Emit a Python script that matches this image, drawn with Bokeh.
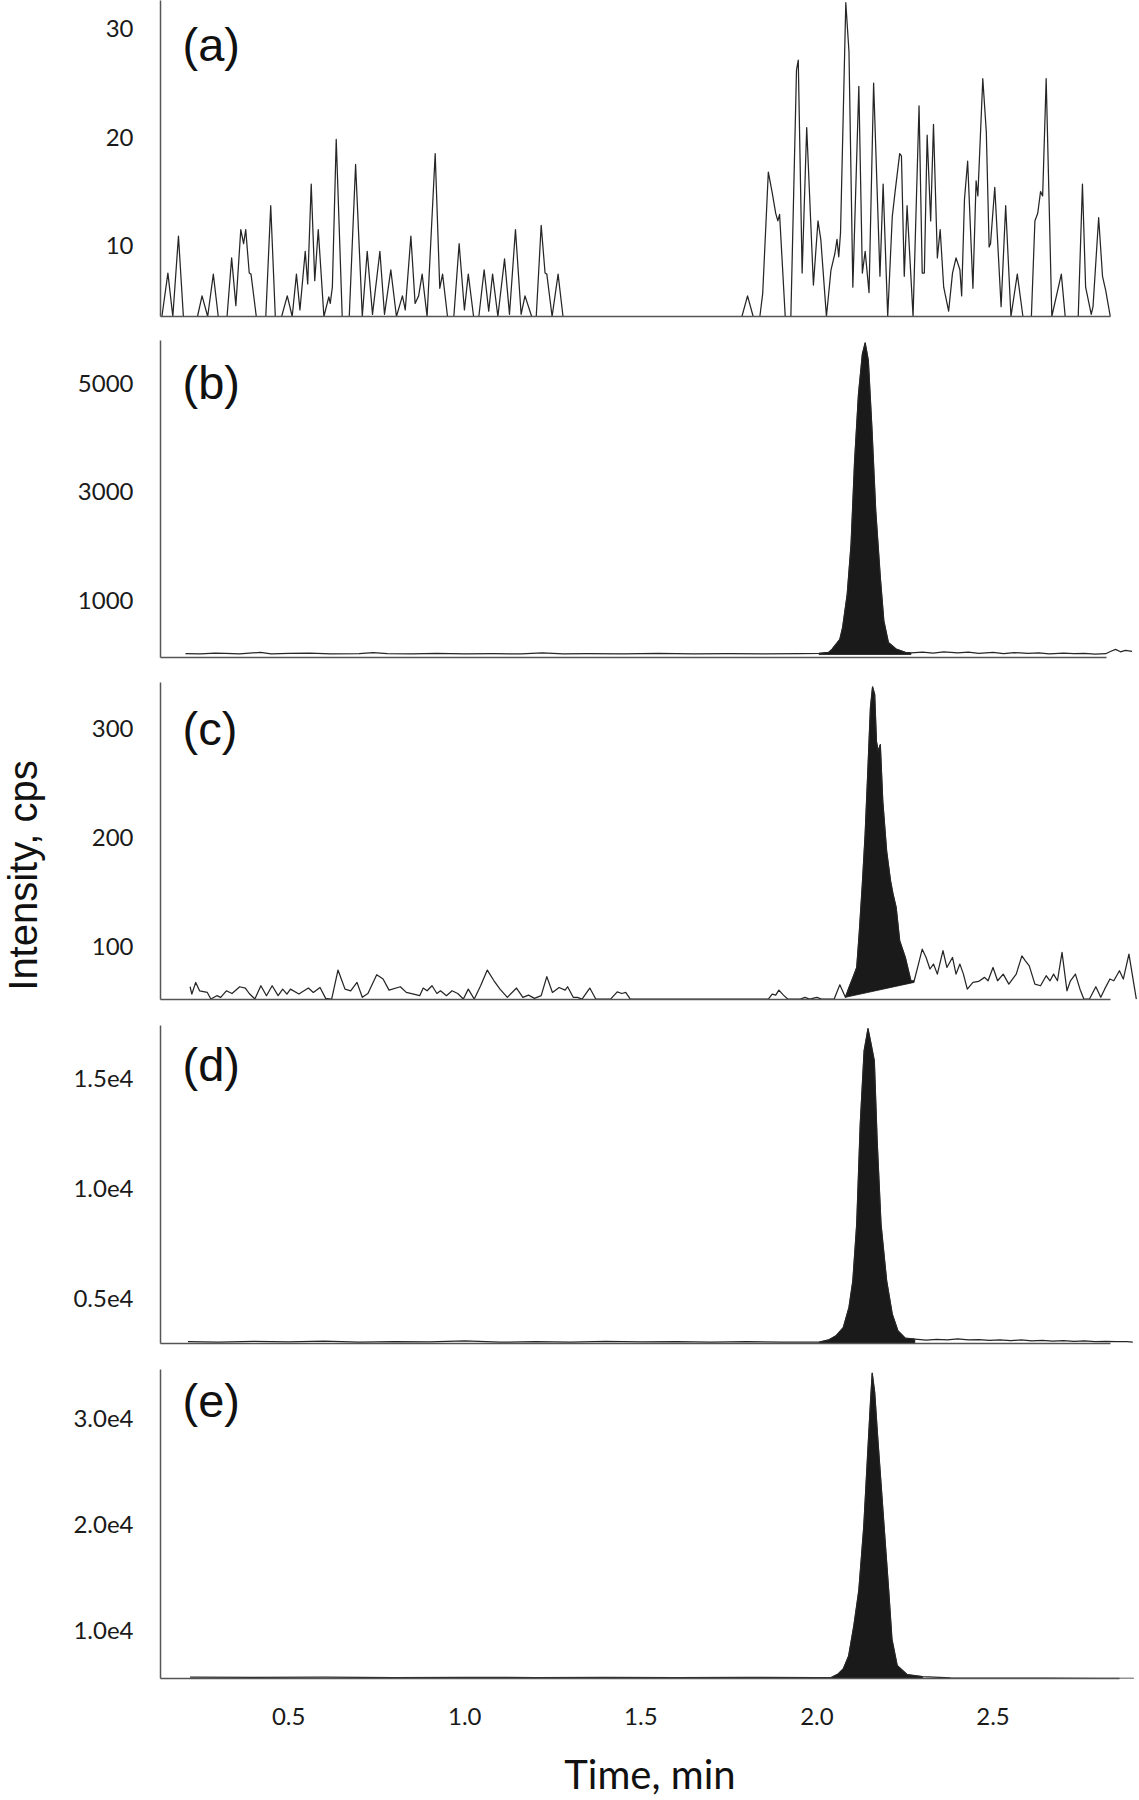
import math
from bokeh.plotting import figure
from bokeh.layouts import column, row
from bokeh.models import FixedTicker, Range1d, Label
from bokeh.embed import file_html
from bokeh.resources import INLINE

# ---------------- data (time in min, intensity in cps) ----------------
time_a = [0.140, 0.157, 0.171, 0.187, 0.201, 0.241, 0.254, 0.270, 0.286, 0.300,
          0.325, 0.338, 0.350, 0.364, 0.372, 0.378, 0.388, 0.393, 0.408, 0.435,
          0.449, 0.462, 0.480, 0.496, 0.510, 0.522, 0.532, 0.547, 0.554, 0.564,
          0.574, 0.584, 0.600, 0.614, 0.618, 0.624, 0.635, 0.652, 0.672, 0.690,
          0.709, 0.723, 0.738, 0.759, 0.772, 0.790, 0.806, 0.823, 0.831, 0.847,
          0.859, 0.869, 0.879, 0.893, 0.916, 0.929, 0.937, 0.951, 0.969, 0.984,
          0.999, 1.010, 1.025, 1.040, 1.055, 1.068, 1.079, 1.094, 1.113, 1.127,
          1.144, 1.160, 1.171, 1.190, 1.203, 1.217, 1.228, 1.233, 1.248, 1.265,
          1.279, 1.787, 1.803, 1.819, 1.838, 1.846, 1.862, 1.873, 1.883, 1.889,
          1.894, 1.910, 1.926, 1.942, 1.947, 1.958, 1.971, 1.990, 2.003, 2.011,
          2.027, 2.040, 2.051, 2.057, 2.062, 2.067, 2.082, 2.091, 2.102, 2.119,
          2.129, 2.137, 2.148, 2.161, 2.179, 2.188, 2.201, 2.214, 2.222, 2.235,
          2.240, 2.248, 2.256, 2.273, 2.290, 2.299, 2.305, 2.313, 2.323, 2.331,
          2.342, 2.350, 2.360, 2.374, 2.385, 2.395, 2.406, 2.411, 2.419, 2.428,
          2.443, 2.452, 2.457, 2.471, 2.481, 2.489, 2.493, 2.505, 2.523, 2.536,
          2.551, 2.569, 2.585, 2.609, 2.619, 2.627, 2.635, 2.641, 2.651, 2.667,
          2.694, 2.705, 2.742, 2.754, 2.763, 2.779, 2.784, 2.800, 2.811, 2.820,
          2.833]
intensity_a = [3.5, 7.5, 3.5, 10.9, 3.5, 3.5, 5.4, 3.5, 7.4, 3.5,
               3.5, 8.9, 4.5, 11.5, 10.2, 11.5, 7.5, 7.4, 3.5, 3.5,
               13.7, 3.5, 3.5, 5.4, 3.5, 7.4, 4.1, 9.5, 6.5, 15.7,
               6.8, 11.5, 3.5, 5.3, 4.7, 6.2, 19.8, 3.5, 3.5, 17.5,
               3.5, 9.5, 3.7, 9.5, 3.7, 7.8, 3.5, 5.4, 4.1, 10.9,
               4.7, 5.4, 7.4, 3.5, 18.5, 6.1, 7.4, 3.5, 3.5, 10.2,
               4.1, 7.4, 3.5, 3.5, 7.8, 4.0, 7.4, 3.5, 8.8, 3.7,
               11.5, 3.7, 5.4, 3.5, 3.5, 11.9, 7.5, 7.4, 3.5, 7.4,
               3.5, 3.5, 5.4, 3.5, 3.5, 5.6, 16.8, 14.9, 13.0, 12.3,
               12.9, 3.5, 3.5, 26.2, 27.1, 7.5, 20.9, 6.4, 12.3, 10.6,
               3.5, 7.8, 9.3, 10.6, 9.0, 11.2, 32.4, 27.9, 6.2, 24.7,
               7.5, 9.5, 5.7, 25.0, 7.2, 15.7, 3.5, 12.7, 15.0, 18.5,
               18.3, 7.2, 13.7, 3.5, 22.9, 7.5, 7.5, 20.2, 12.3, 21.2,
               8.9, 11.5, 6.2, 4.0, 7.5, 8.9, 7.8, 5.4, 14.3, 17.8,
               6.1, 16.0, 14.6, 25.4, 20.5, 9.9, 10.2, 15.4, 4.4, 13.7,
               3.5, 7.4, 3.5, 3.5, 12.3, 13.0, 15.0, 14.6, 25.4, 3.5,
               7.4, 3.5, 3.5, 15.7, 6.2, 3.7, 4.4, 12.6, 7.2, 5.9,
               3.5]

time_b = [0.207, 0.25, 0.29, 0.32, 0.36, 0.42, 0.45, 0.50, 0.56, 0.62,
          0.70, 0.74, 0.78, 0.85, 0.92, 1.00, 1.08, 1.16, 1.22, 1.28,
          1.35, 1.45, 1.55, 1.65, 1.75, 1.85, 1.95, 2.006, 2.033, 2.043,
          2.065, 2.073, 2.086, 2.097, 2.107, 2.118, 2.129, 2.137, 2.146, 2.156,
          2.167, 2.180, 2.190, 2.203, 2.225, 2.251, 2.267, 2.30, 2.33, 2.36,
          2.40, 2.43, 2.46, 2.50, 2.53, 2.56, 2.60, 2.63, 2.66, 2.70,
          2.73, 2.76, 2.79, 2.82, 2.835, 2.848, 2.862, 2.876, 2.895]
intensity_b = [15, 10, 25, 20, 10, 40, 10, 20, 25, 10,
               15, 35, 15, 10, 20, 10, 15, 10, 30, 10,
               15, 10, 20, 10, 15, 10, 15, 20, 40, 100,
               280, 500, 1110, 2040, 3570, 4800, 5540, 5750, 5420, 4190,
               2650, 1420, 620, 220, 100, 40, 30, 45, 25, 50,
               30, 45, 20, 40, 15, 35, 20, 30, 10, 25,
               15, 20, 5, 15, 60, 95, 50, 75, 60]

time_c = [0.220, 0.225, 0.236, 0.247, 0.269, 0.279, 0.296, 0.307, 0.323, 0.339,
          0.361, 0.377, 0.388, 0.404, 0.421, 0.437, 0.453, 0.470, 0.483, 0.495,
          0.505, 0.529, 0.556, 0.570, 0.589, 0.605, 0.622, 0.640, 0.660, 0.676,
          0.694, 0.709, 0.725, 0.750, 0.768, 0.785, 0.817, 0.834, 0.855, 0.872,
          0.882, 0.893, 0.907, 0.921, 0.931, 0.948, 0.964, 0.980, 0.996, 1.010,
          1.027, 1.045, 1.064, 1.083, 1.100, 1.121, 1.147, 1.165, 1.181, 1.198,
          1.217, 1.233, 1.249, 1.268, 1.285, 1.292, 1.308, 1.320, 1.333, 1.355,
          1.372, 1.414, 1.433, 1.446, 1.457, 1.470, 1.862, 1.873, 1.883, 1.892,
          1.905, 1.917, 1.953, 1.966, 1.979, 2.000, 2.013, 2.049, 2.065, 2.081,
          2.091, 2.102, 2.113, 2.120, 2.129, 2.137, 2.145, 2.152, 2.158, 2.164,
          2.169, 2.174, 2.180, 2.187, 2.198, 2.209, 2.216, 2.225, 2.235, 2.251,
          2.267, 2.276, 2.286, 2.299, 2.310, 2.321, 2.331, 2.342, 2.358, 2.369,
          2.385, 2.395, 2.406, 2.416, 2.427, 2.443, 2.459, 2.476, 2.486, 2.500,
          2.513, 2.529, 2.545, 2.566, 2.582, 2.592, 2.603, 2.619, 2.635, 2.651,
          2.662, 2.672, 2.683, 2.696, 2.710, 2.720, 2.734, 2.747, 2.758, 2.774,
          2.792, 2.806, 2.817, 2.832, 2.843, 2.859, 2.870, 2.886, 2.907]
intensity_c = [62.7, 56, 66.7, 59, 57.5, 51.4, 54.5, 53, 59, 56.5,
               62.7, 61.5, 56.5, 51.4, 63.6, 54.5, 63.6, 54.5, 60.5, 56,
               60.5, 56, 61.5, 57.5, 62, 52, 51.4, 78, 60.5, 59,
               66.7, 53, 56.5, 73.7, 69.8, 59.6, 62.7, 57.5, 56, 54.5,
               61.5, 59, 63.6, 56.5, 59, 54.5, 59, 56.5, 51.4, 60.5,
               51.4, 63.6, 78, 68.2, 60.5, 53, 61.5, 53, 55, 52,
               54.5, 72, 57.5, 62, 59.6, 62.7, 53, 53, 51.4, 61.5,
               51.4, 51.4, 58, 56.5, 57.5, 51.4, 51.4, 56, 55, 59.6,
               55, 51.4, 51.4, 53, 51.4, 53, 51.4, 51.4, 64.5, 53,
               62, 71, 80.4, 111, 157, 203, 264, 319, 338, 331,
               288, 279, 285, 233, 187, 160, 148, 135.5, 105, 89.6,
               68, 68, 80.5, 97.2, 89.6, 79, 83.5, 74.3, 95.8, 80.4,
               89.6, 74.3, 83.5, 74.3, 60.5, 66.7, 67.6, 71.3, 68.2, 80.4,
               68.2, 74.3, 65.1, 74.3, 91.1, 86.5, 81.9, 65.1, 63.6, 72.8,
               68.2, 74.3, 68.2, 94.2, 59, 68.2, 74.3, 60.5, 51.4, 51.4,
               62.7, 53, 60.5, 69.8, 68.2, 77.4, 69.8, 92.6, 51.4]

time_d = [0.214, 0.30, 0.40, 0.50, 0.60, 0.70, 0.80, 0.90, 1.00, 1.10,
          1.20, 1.30, 1.40, 1.50, 1.60, 1.70, 1.80, 1.90, 2.006, 2.033,
          2.054, 2.075, 2.091, 2.102, 2.113, 2.123, 2.134, 2.145, 2.152, 2.163,
          2.171, 2.182, 2.198, 2.214, 2.230, 2.251, 2.278, 2.31, 2.34, 2.37,
          2.40, 2.43, 2.46, 2.49, 2.52, 2.55, 2.58, 2.61, 2.64, 2.67,
          2.70, 2.73, 2.76, 2.79, 2.82, 2.85, 2.88, 2.897]
intensity_d = [3020, 3000, 3040, 3010, 3050, 3000, 3030, 3010, 3060, 3000,
               3020, 3000, 3040, 3010, 3030, 3000, 3020, 3000, 3000, 3100,
               3290, 3670, 4580, 5790, 8360, 12900, 16240, 17250, 16700, 15790,
               12150, 8360, 5790, 4270, 3520, 3180, 3140, 3090, 3130, 3110,
               3150, 3100, 3120, 3080, 3110, 3070, 3100, 3060, 3080, 3050,
               3070, 3040, 3060, 3030, 3040, 3020, 3030, 3000]

time_e = [0.22, 0.40, 0.60, 0.80, 1.00, 1.20, 1.40, 1.60, 1.80, 2.00,
          2.040, 2.060, 2.075, 2.090, 2.105, 2.119, 2.133, 2.143, 2.152, 2.157,
          2.164, 2.172, 2.180, 2.194, 2.204, 2.213, 2.228, 2.256, 2.30, 2.38,
          2.50, 2.65, 2.80, 2.90]
intensity_e = [5600, 5580, 5600, 5570, 5590, 5570, 5580, 5560, 5580, 5560,
               5560, 5900, 6400, 7600, 10500, 13800, 19800, 26000, 31500, 34300,
               32500, 28500, 24800, 18300, 13700, 9200, 6700, 5850, 5650, 5550,
               5520, 5510, 5500, 5500]

# integrated peak windows: (start time, end time, baseline at start, baseline at end)
peak_b = (2.006, 2.267, 0, 0)
peak_c = (2.081, 2.276, 53, 66.7)
peak_d = (2.006, 2.278, 2960, 2960)
peak_e = (2.040, 2.300, 5490, 5490)

y_ticks_a = [10, 20, 30]
y_labels_a = ["10", "20", "30"]
y_ticks_b = [1000, 3000, 5000]
y_labels_b = ["1000", "3000", "5000"]
y_ticks_c = [100, 200, 300]
y_labels_c = ["100", "200", "300"]
y_ticks_d = [5000, 10000, 15000]
y_labels_d = ["0.5e4", "1.0e4", "1.5e4"]
y_ticks_e = [10000, 20000, 30000]
y_labels_e = ["1.0e4", "2.0e4", "3.0e4"]

x_ticks = [0.5, 1.0, 1.5, 2.0, 2.5]
x_tick_labels = ["0.5", "1.0", "1.5", "2.0", "2.5"]
panel_letters = ["(a)", "(b)", "(c)", "(d)", "(e)"]
x_title = "Time, min"
y_title = "Intensity, cps"

# ---------------- layout ----------------
PAGE_W = 1139
STRIP_W = 50          # left strip carrying the shared y title
AXIS_X = 160          # page x of the y axes
X_START, X_END = 0.136, 2.916
x_range = Range1d(X_START, X_END)

panels = [
    dict(t=time_a, v=intensity_a, yr=(3.5, 32.6), yt=y_ticks_a, yl=y_labels_a, peak=None,
         fh=316, bb=24, ly=272, axis_end=2.833),
    dict(t=time_b, v=intensity_b, yr=(-55, 5793), yt=y_ticks_b, yl=y_labels_b, peak=peak_b,
         fh=317, bb=25, ly=275, axis_end=2.823),
    dict(t=time_c, v=intensity_c, yr=(51, 342), yt=y_ticks_c, yl=y_labels_c, peak=peak_c,
         fh=317, bb=26, ly=271, axis_end=2.833),
    dict(t=time_d, v=intensity_d, yr=(2940, 17395), yt=y_ticks_d, yl=y_labels_d, peak=peak_d,
         fh=318, bb=26, ly=279, axis_end=2.833),
    dict(t=time_e, v=intensity_e, yr=(5480, 34650), yt=y_ticks_e, yl=y_labels_e, peak=peak_e,
         fh=318, bb=113, ly=278, axis_end=2.86),
]
PAGE_H = sum(c["fh"] + c["bb"] for c in panels)   # 1800

AXIS_COLOR = "#555555"
TRACE_COLOR = "#262626"
FILL_COLOR = "#1a1a1a"

figs = []
for i, cfg in enumerate(panels):
    last = i == len(panels) - 1
    left = AXIS_X - STRIP_W
    p = figure(x_range=x_range, y_range=Range1d(*cfg["yr"]),
               width=PAGE_W - STRIP_W, height=cfg["fh"] + cfg["bb"],
               min_border_left=left, min_border_right=0, min_border_top=0,
               min_border_bottom=cfg["bb"], output_backend="svg",
               toolbar_location=None, title=None,
               background_fill_color="white", border_fill_color="white")
    p.outline_line_color = None
    p.grid.visible = False

    yax = p.yaxis[0]
    yax.ticker = FixedTicker(ticks=cfg["yt"])
    yax.major_label_overrides = {k: s for k, s in zip(cfg["yt"], cfg["yl"])}
    yax.major_tick_line_color = None
    yax.minor_tick_line_color = None
    yax.major_tick_out = 0
    yax.major_tick_in = 0
    yax.minor_tick_out = 0
    yax.axis_line_color = AXIS_COLOR
    yax.axis_line_width = 1.5
    yax.major_label_standoff = 27
    yax.major_label_text_font = "Lato"
    yax.major_label_text_font_size = "24px"
    yax.major_label_text_color = "#1a1a1a"

    xax = p.xaxis[0]
    xax.bounds = (X_START, cfg["axis_end"])
    xax.axis_line_color = AXIS_COLOR
    xax.axis_line_width = 1.6
    xax.major_tick_line_color = None
    xax.minor_tick_line_color = None
    xax.major_tick_out = 0
    xax.major_tick_in = 0
    xax.minor_tick_out = 0
    if last:
        xax.ticker = FixedTicker(ticks=x_ticks)
        xax.major_label_overrides = {k: s for k, s in zip(x_ticks, x_tick_labels)}
        xax.major_label_standoff = 29
        xax.major_label_text_font = "Lato"
        xax.major_label_text_font_size = "24px"
        xax.major_label_text_color = "#1a1a1a"
        xax.axis_label = x_title
        xax.axis_label_text_font = "Lato"
        xax.axis_label_text_font_size = "40px"
        xax.axis_label_text_font_style = "normal"
        xax.axis_label_text_color = "#111111"
        xax.axis_label_standoff = 22
    else:
        xax.ticker = FixedTicker(ticks=[])
        xax.major_label_standoff = 0
        xax.major_label_text_font_size = "0px"

    t, v = cfg["t"], cfg["v"]
    if cfg["peak"] is not None:
        t0, t1, b0, b1 = cfg["peak"]
        idx = [k for k, tt in enumerate(t) if t0 <= tt <= t1]
        px = [t[k] for k in idx] + [t1, t0]
        py = [v[k] for k in idx] + [b1, b0]
        p.patch(px, py, fill_color=FILL_COLOR, line_color=FILL_COLOR, line_width=0.8)

    p.line(t, v, line_color=TRACE_COLOR, line_width=1.25, line_join="round")

    p.add_layout(Label(x=22, y=cfg["ly"], x_units="screen", y_units="screen",
                       text=panel_letters[i], text_font="Liberation Sans",
                       text_font_size="47px", text_color="#111111",
                       text_align="left", text_baseline="middle"))
    figs.append(p)

# left strip holding the shared vertical axis title
strip = figure(x_range=Range1d(0, STRIP_W), y_range=Range1d(0, PAGE_H),
               width=STRIP_W, height=PAGE_H, min_border=0,
               x_axis_location=None, y_axis_location=None,
               output_backend="svg", toolbar_location=None, title=None,
               background_fill_color="white", border_fill_color="white")
strip.outline_line_color = None
strip.grid.visible = False
strip.add_layout(Label(x=22, y=PAGE_H - 875, text=y_title,
                       text_font="Liberation Sans", text_font_size="40px",
                       text_color="#111111", angle=math.pi / 2,
                       text_align="center", text_baseline="middle"))

layout = row(strip, column(*figs, spacing=0), spacing=0)

open("out.html", "w").write(file_html(layout, INLINE))
